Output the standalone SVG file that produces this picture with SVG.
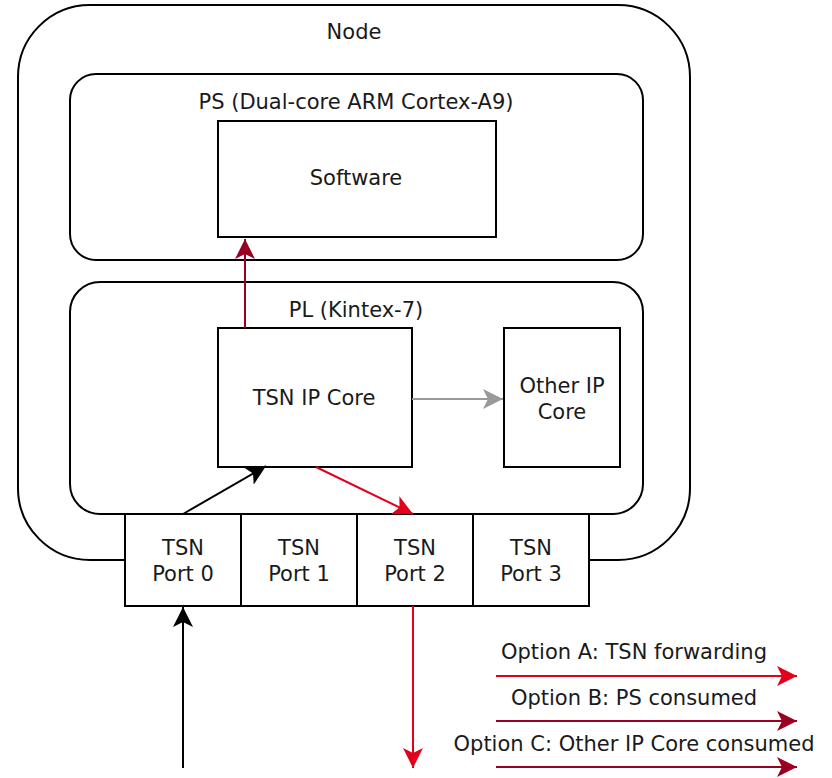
<svg xmlns="http://www.w3.org/2000/svg" width="832" height="778" viewBox="0 0 832 778">
  <style>
    .box { fill: #ffffff; stroke: #000000; stroke-width: 2; }
    .lbl { font-family: "DejaVu Sans", Verdana, sans-serif; font-size: 21px; fill: #1a1a1a; text-anchor: middle; dominant-baseline: central; }
    .c { fill: none; stroke-width: 2; }
    .blk { stroke: #000000; }
    .red { stroke: #e3001b; }
    .dred { stroke: #9a0022; }
    .gry { stroke: #999999; }
  </style>
  <defs>
    <marker id="ah-blk" markerWidth="22" markerHeight="20" refX="20" refY="10" orient="auto" markerUnits="userSpaceOnUse">
      <path d="M0,0 L20,10 L0,20 L5,10 Z" fill="#000000"/>
    </marker>
    <marker id="ah-red" markerWidth="22" markerHeight="20" refX="20" refY="10" orient="auto" markerUnits="userSpaceOnUse">
      <path d="M0,0 L20,10 L0,20 L5,10 Z" fill="#e3001b"/>
    </marker>
    <marker id="ah-dred" markerWidth="22" markerHeight="20" refX="20" refY="10" orient="auto" markerUnits="userSpaceOnUse">
      <path d="M0,0 L20,10 L0,20 L5,10 Z" fill="#9a0022"/>
    </marker>
    <marker id="ah-gry" markerWidth="22" markerHeight="20" refX="20" refY="10" orient="auto" markerUnits="userSpaceOnUse">
      <path d="M0,0 L20,10 L0,20 L5,10 Z" fill="#999999"/>
    </marker>
  </defs>

  <g id="node">
    <rect class="box" x="18" y="5" width="672" height="555" rx="72" ry="72"/>
    <text class="lbl" x="354" y="32">Node</text>
  </g>

  <g id="ps">
    <rect class="box" x="70" y="74" width="573" height="186" rx="26" ry="26"/>
    <text class="lbl" x="356" y="102">PS (Dual-core ARM Cortex-A9)</text>
  </g>

  <g id="software">
    <rect class="box" x="218" y="121" width="278" height="116"/>
    <text class="lbl" x="356" y="178">Software</text>
  </g>

  <g id="pl">
    <rect class="box" x="70" y="282" width="573" height="232" rx="30" ry="30"/>
    <text class="lbl" x="356" y="310">PL (Kintex-7)</text>
  </g>

  <g id="tsn-ip-core">
    <rect class="box" x="218" y="328" width="194" height="139"/>
    <text class="lbl" x="314" y="398">TSN IP Core</text>
  </g>

  <g id="other-ip-core">
    <rect class="box" x="504" y="328" width="116" height="139"/>
    <text class="lbl" x="562" y="386">Other IP</text>
    <text class="lbl" x="562" y="412">Core</text>
  </g>

  <g id="port0">
    <rect class="box" x="125" y="514" width="116" height="92"/>
    <text class="lbl" x="183" y="548">TSN</text>
    <text class="lbl" x="183" y="574">Port 0</text>
  </g>
  <g id="port1">
    <rect class="box" x="241" y="514" width="116" height="92"/>
    <text class="lbl" x="299" y="548">TSN</text>
    <text class="lbl" x="299" y="574">Port 1</text>
  </g>
  <g id="port2">
    <rect class="box" x="357" y="514" width="116" height="92"/>
    <text class="lbl" x="415" y="548">TSN</text>
    <text class="lbl" x="415" y="574">Port 2</text>
  </g>
  <g id="port3">
    <rect class="box" x="473" y="514" width="116" height="92"/>
    <text class="lbl" x="531" y="548">TSN</text>
    <text class="lbl" x="531" y="574">Port 3</text>
  </g>

  <g id="connectors">
    <line class="c dred" x1="245" y1="328" x2="245" y2="239" marker-end="url(#ah-dred)"/>
    <line class="c gry" x1="412" y1="399" x2="503" y2="399" marker-end="url(#ah-gry)"/>
    <line class="c blk" x1="183" y1="514" x2="266" y2="466" marker-end="url(#ah-blk)"/>
    <line class="c red" x1="316" y1="467" x2="413" y2="514" marker-end="url(#ah-red)"/>
    <line class="c blk" x1="183" y1="768" x2="183" y2="607" marker-end="url(#ah-blk)"/>
    <line class="c red" x1="413" y1="606" x2="413" y2="768" marker-end="url(#ah-red)"/>
  </g>

  <g id="legend">
    <text class="lbl" x="634" y="652">Option A: TSN forwarding</text>
    <line class="c red" x1="496" y1="676" x2="797" y2="676" marker-end="url(#ah-red)"/>
    <text class="lbl" x="634" y="698">Option B: PS consumed</text>
    <line class="c dred" x1="496" y1="721" x2="797" y2="721" marker-end="url(#ah-dred)"/>
    <text class="lbl" x="634" y="744">Option C: Other IP Core consumed</text>
    <line class="c dred" x1="496" y1="767" x2="797" y2="767" marker-end="url(#ah-dred)"/>
  </g>
</svg>
